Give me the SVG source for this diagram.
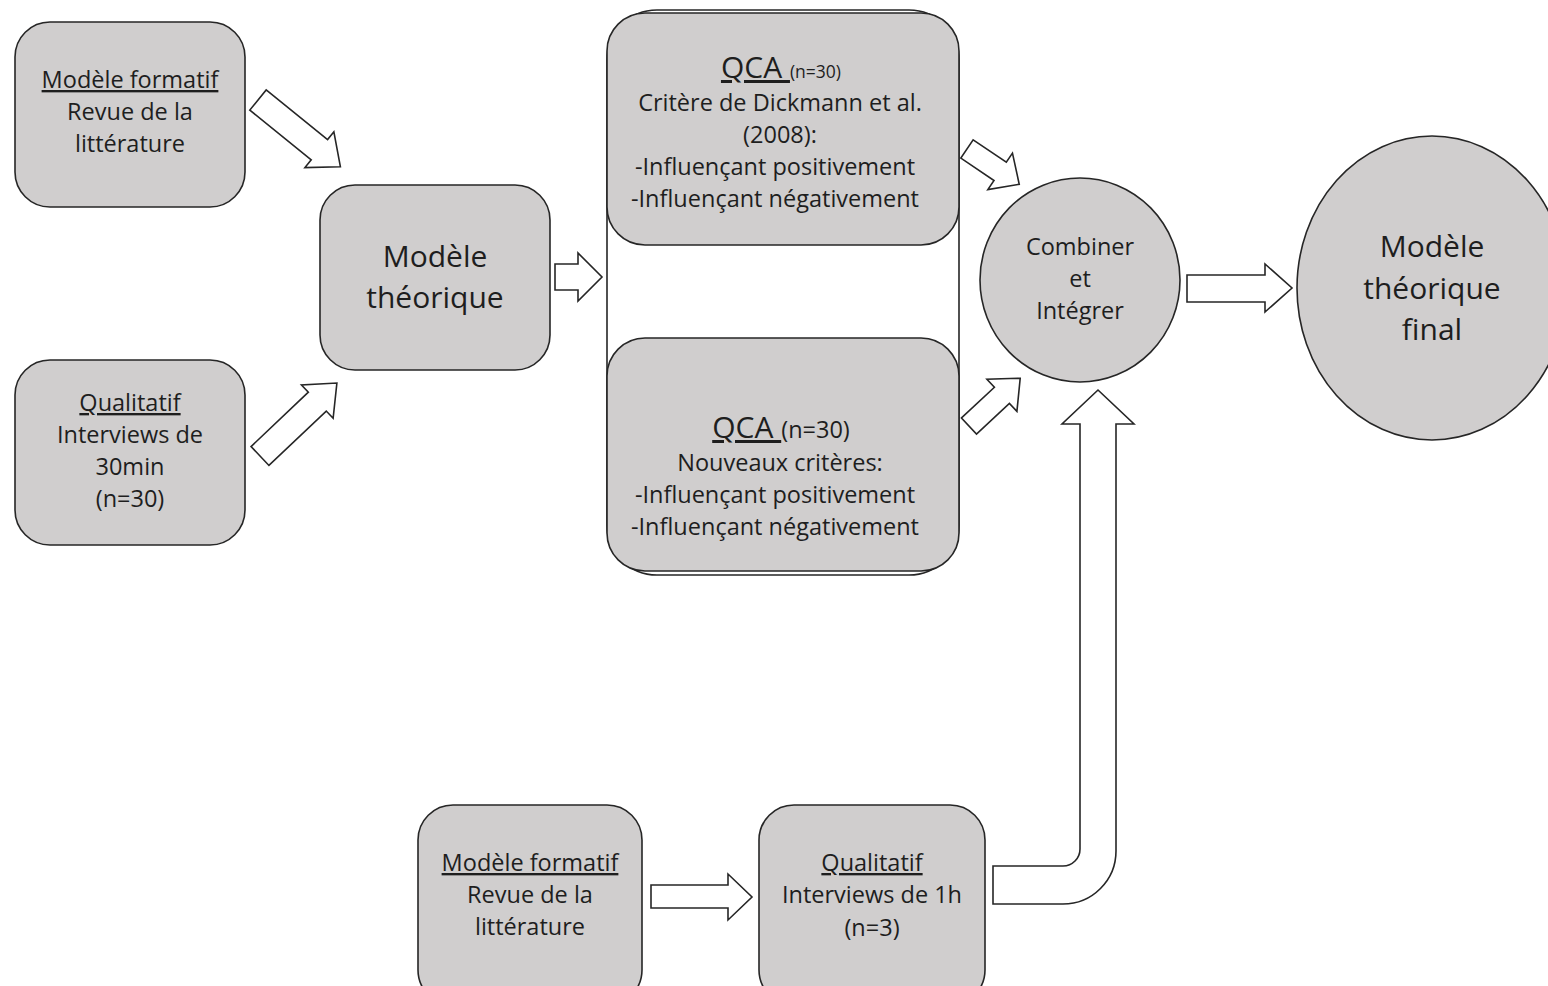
<svg xmlns="http://www.w3.org/2000/svg" width="1548" height="986" viewBox="0 0 1548 986">
<defs>
<style>
.box{fill:#d0cece;stroke:#262626;stroke-width:1.6}
.frame{fill:none;stroke:#262626;stroke-width:1.6}
.arr{fill:#ffffff;stroke:#262626;stroke-width:1.6;stroke-linejoin:miter}
text{font-family:"Open Sans","Liberation Sans",sans-serif;fill:#1e1e1e;text-anchor:middle}
.t21{font-size:23.5px}
.t26{font-size:30px}
.u{text-decoration:underline}
</style>
</defs>
<rect width="1548" height="986" fill="#ffffff"/>

<g id="connectors">
<path class="arr" transform="translate(258,100) rotate(39)" d="M0,-13 L79,-13 L79,-23 L106,0 L79,23 L79,13 L0,13 Z"/>
<path class="arr" transform="translate(260,456) rotate(-43.5)" d="M0,-13 L79,-13 L79,-23 L106,0 L79,23 L79,13 L0,13 Z"/>
<path class="arr" d="M555,264 L578,264 L578,253 L602,277 L578,301 L578,290 L555,290 Z"/>
<path class="arr" transform="translate(967,149) rotate(34)" d="M0,-11 L40,-11 L40,-22 L63,0 L40,22 L40,11 L0,11 Z"/>
<path class="arr" transform="translate(969,426) rotate(-43)" d="M0,-11 L45,-11 L45,-22 L70,0 L45,22 L45,11 L0,11 Z"/>
<path class="arr" d="M1187,275 L1265,275 L1265,264 L1292,288 L1265,312 L1265,302 L1187,302 Z"/>
<path class="arr" d="M651,885 L728,885 L728,874 L752,897 L728,920 L728,908 L651,908 Z"/>
<path class="arr" d="M993,866 L1063,866 A17,17 0 0 0 1080,849 L1080,424 L1062,424 L1098,390 L1134,424 L1116,424 L1116,851 A53,53 0 0 1 1063,904 L993,904 Z"/>
</g>

<g id="n-formatif1">
<rect class="box" x="15" y="22" width="230" height="185" rx="35"/>
<text class="t21" x="130" y="88"><tspan class="u">Modèle formatif</tspan></text>
<text class="t21" x="130" y="120">Revue de la</text>
<text class="t21" x="130" y="152">littérature</text>
</g>

<g id="n-qualitatif1">
<rect class="box" x="15" y="360" width="230" height="185" rx="35"/>
<text class="t21" x="130" y="411"><tspan class="u">Qualitatif</tspan></text>
<text class="t21" x="130" y="443">Interviews de</text>
<text class="t21" x="130" y="475">30min</text>
<text class="t21" x="130" y="507">(n=30)</text>
</g>

<g id="n-theorique">
<rect class="box" x="320" y="185" width="230" height="185" rx="35"/>
<text class="t26" x="435" y="267">Modèle</text>
<text class="t26" x="435" y="308">théorique</text>
</g>

<g id="n-qca">
<rect class="frame" x="607" y="10" width="352" height="565" rx="50"/>
<rect class="box" x="607" y="13" width="352" height="232" rx="38"/>
<text x="781" y="78"><tspan class="u" font-size="30px">QCA </tspan><tspan font-size="17.5px">(n=30)</tspan></text>
<text class="t21" x="780" y="111">Critère de Dickmann et al.</text>
<text class="t21" x="780" y="143">(2008):</text>
<text class="t21" x="775" y="175">-Influençant positivement</text>
<text class="t21" x="775" y="207">-Influençant négativement</text>
<rect class="box" x="607" y="338" width="352" height="233" rx="38"/>
<text x="781" y="438"><tspan class="u" font-size="30px">QCA </tspan><tspan font-size="23.5px">(n=30)</tspan></text>
<text class="t21" x="780" y="471">Nouveaux critères:</text>
<text class="t21" x="775" y="503">-Influençant positivement</text>
<text class="t21" x="775" y="535">-Influençant négativement</text>
</g>

<g id="n-combiner">
<ellipse class="box" cx="1080" cy="280" rx="100" ry="102"/>
<text class="t21" x="1080" y="255">Combiner</text>
<text class="t21" x="1080" y="287">et</text>
<text class="t21" x="1080" y="319">Intégrer</text>
</g>

<g id="n-final">
<ellipse class="box" cx="1432" cy="288" rx="135" ry="152"/>
<text class="t26" x="1432" y="257">Modèle</text>
<text class="t26" x="1432" y="299">théorique</text>
<text class="t26" x="1432" y="340">final</text>
</g>

<g id="n-formatif2">
<rect class="box" x="418" y="805" width="224" height="200" rx="35"/>
<text class="t21" x="530" y="871"><tspan class="u">Modèle formatif</tspan></text>
<text class="t21" x="530" y="903">Revue de la</text>
<text class="t21" x="530" y="935">littérature</text>
</g>

<g id="n-qualitatif2">
<rect class="box" x="759" y="805" width="226" height="200" rx="35"/>
<text class="t21" x="872" y="871"><tspan class="u">Qualitatif</tspan></text>
<text class="t21" x="872" y="903">Interviews de 1h</text>
<text class="t21" x="872" y="936">(n=3)</text>
</g>
</svg>
